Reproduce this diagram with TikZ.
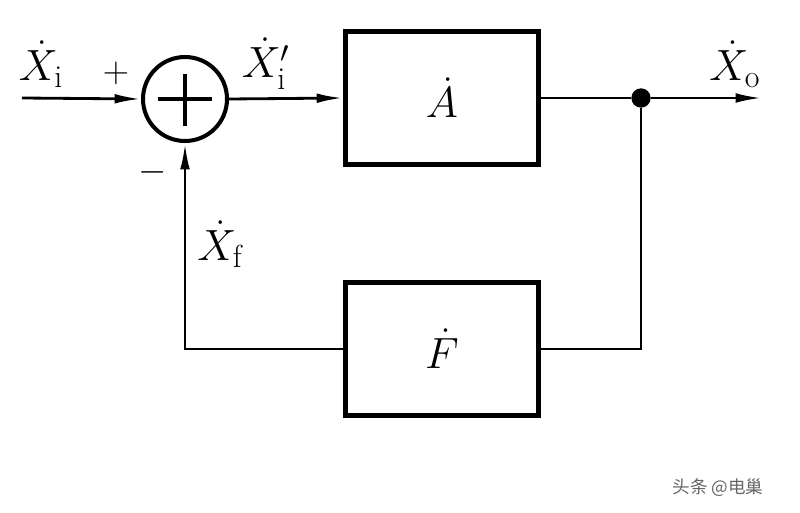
\documentclass[tikz,border=0pt]{standalone}
\usepackage{fontspec}
\usepackage{amsmath}
\usepackage{tikz}
\usetikzlibrary{arrows.meta}
\newfontfamily\cjkfont{Noto Sans CJK SC}

\begin{document}
\begin{tikzpicture}[x=0.02cm,y=-0.02cm,
  sig/.style={line width=1.6pt,-{Latex[length=15pt,width=5.5pt]}},
  wire/.style={line width=1.6pt},
  block/.style={rectangle,draw,line width=2.8pt,minimum width=3.86cm,minimum height=2.66cm,inner sep=0pt,font=\fontsize{26}{28}\selectfont},
  summer/.style={circle,draw,line width=2.3pt,minimum size=1.68cm,inner sep=0pt},
  lab/.style={inner sep=0pt,font=\fontsize{26}{28}\selectfont},
  sgn/.style={inner sep=0pt,font=\fontsize{22}{24}\selectfont}]
\useasboundingbox (0,0) rectangle (800,513);
% blocks and summing point
\node[summer] (sum) at (185,99) {};
\node[block] (amp) at (442,98) {$\dot{A}$};
\node[block] (fb) at (442,349) {$\dot{F}$};
\node[circle,fill,inner sep=0pt,minimum size=11pt] (split) at (641,98) {};
\coordinate (in) at (22,98);
\coordinate (out) at (762,98);
% plus sign inside the circle
\draw[line width=2pt] ([xshift=-0.55cm]sum.center) -- ([xshift=0.55cm]sum.center);
\draw[line width=2pt] ([yshift=0.5cm]sum.center) -- ([yshift=-0.55cm]sum.center);
% signal lines
\draw[sig] (in) -- (sum.west);
\draw[sig] (sum.east) -- (amp.west);
\draw[wire] (amp.east) -- (split);
\draw[sig] (split) -- (out);
\draw[wire] (split) |- (fb.east);
\draw[sig] (fb.west) -| (sum.south);
% labels
\node[lab] (xi) at (41,64) {$\dot{X}_{\mathrm{i}}$};
\node[lab] (xip) at (266,64) {$\dot{X}_{\mathrm{i}}'$};
\node[lab] (xo) at (735,64) {$\dot{X}_{\mathrm{o}}$};
\node[lab] (xf) at (220,244) {$\dot{X}_{\mathrm{f}}$};
\node[sgn] (plus) at (116,73) {$+$};
\node[sgn] (minus) at (153,172) {$-$};
\node[font=\cjkfont\fontsize{10}{12}\selectfont,text=gray!80!black,inner sep=0pt] (mark) at (718,488) {头条 @电巢};
\end{tikzpicture}
\end{document}
